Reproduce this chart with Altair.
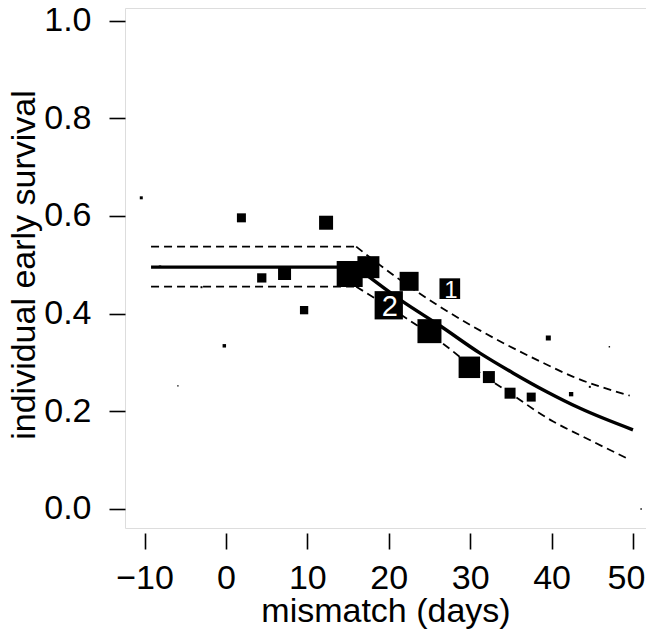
import altair as alt
import pandas as pd

# ---- observed points ----
mismatch = [-10.4, -8.1, -5.9, -3.0, -0.2, 1.9, 4.4, 7.2, 9.6, 12.3, 15.2, 17.5,
            20.0, 22.5, 25.0, 27.5, 29.9, 32.3, 34.9, 37.5, 39.6, 42.4, 44.7, 47.1, 51.0]
survival = [0.637, 0.496, 0.252, 0.454, 0.334, 0.596, 0.473, 0.482, 0.407, 0.586, 0.481, 0.495,
            0.417, 0.466, 0.364, 0.451, 0.290, 0.270, 0.237, 0.229, 0.350, 0.235, 0.250, 0.332, 0.0]
weight = [9, 6, 2, 4, 12, 81, 86, 169, 69, 196, 676, 484,
          800, 361, 576, 428, 462, 144, 121, 81, 25, 19, 4, 2, 2]
point_label = [""] * 12 + ["2", "", "", "1"] + [""] * 9
label_size = [0] * 12 + [29, 0, 0, 24] + [0] * 9

# ---- fitted curve and confidence band (flat part, then decline) ----
fit_x = [-9.2, 16.0, 16.0, 21.6, 26.3, 31.2, 35.3, 39.4, 43.5, 50.0]
fit_y = [0.495, 0.495, 0.495, 0.426, 0.375, 0.319, 0.278, 0.240, 0.206, 0.162]
upper_x = [-9.2, 16.0, 16.0, 20.8, 26.3, 30.4, 34.5, 38.6, 42.6, 49.6]
upper_y = [0.537, 0.537, 0.537, 0.476, 0.414, 0.373, 0.336, 0.302, 0.271, 0.232]
lower_x = [-9.2, 16.0, 16.0, 22.2, 26.3, 31.6, 34.9, 40.2, 43.5, 49.6]
lower_y = [0.455, 0.455, 0.455, 0.390, 0.343, 0.274, 0.237, 0.179, 0.151, 0.101]
segment = [0, 0, 1, 1, 1, 1, 1, 1, 1, 1]

x_ticks = [-10, 0, 10, 20, 30, 40, 50]
y_ticks = [0.0, 0.2, 0.4, 0.6, 0.8, 1.0]

FONT = "Liberation Sans"

pts = pd.DataFrame({"x": mismatch, "y": survival, "w": weight,
                    "lab": point_label, "fs": label_size})
fit = pd.DataFrame({"x": fit_x, "y": fit_y, "seg": segment})
band = pd.concat([
    pd.DataFrame({"x": upper_x, "y": upper_y, "seg": [f"u{s}" for s in segment]}),
    pd.DataFrame({"x": lower_x, "y": lower_y, "seg": [f"l{s}" for s in segment]}),
])

xscale = alt.Scale(domain=[-12.4, 51.6], nice=False, zero=False)
yscale = alt.Scale(domain=[-0.039, 1.0256], nice=False, zero=False)

xaxis = alt.Axis(values=x_ticks, title="mismatch (days)", grid=False, domain=False,
                 tickSize=16, tickWidth=1.6, tickColor="black", offset=5,
                 labelFont=FONT, labelFontSize=34, labelColor="black", labelPadding=12,
                 labelFlush=False, labelOverlap=False,
                 labelOffset={"condition": {"test": "datum.value === 50", "value": -7}, "value": 0},
                 titleFont=FONT, titleFontSize=34, titleFontWeight="normal", titleColor="black",
                 titleBaseline="alphabetic", titleY=88)
yaxis = alt.Axis(values=y_ticks, format=".1f", title="individual early survival", grid=False,
                 domain=False, tickSize=16, tickWidth=1.6, tickColor="black",
                 labelFont=FONT, labelFontSize=34, labelColor="black", labelPadding=18,
                 labelFlush=False, labelOverlap=False,
                 titleFont=FONT, titleFontSize=34, titleFontWeight="normal", titleColor="black",
                 titleAngle=270, titleAlign="center", titleBaseline="alphabetic",
                 titleX=-91, titleY=256.5)

X = alt.X("x:Q", scale=xscale, axis=xaxis)
Y = alt.Y("y:Q", scale=yscale, axis=yaxis)

squares = alt.Chart(pts).mark_square(filled=True, color="black", opacity=1).encode(
    x=X, y=Y, size=alt.Size("w:Q", scale=None, legend=None)
)

labels = alt.Chart(pts).transform_filter("datum.lab != ''").mark_text(
    color="white", font=FONT, align="center", baseline="middle", dy=2, dx=1
).encode(
    x=alt.X("x:Q", scale=xscale), y=alt.Y("y:Q", scale=yscale), text="lab:N",
    size=alt.Size("fs:Q", scale=None, legend=None)
)

fit_line = alt.Chart(fit).mark_line(color="black", strokeWidth=3.4, interpolate="monotone").encode(
    x=alt.X("x:Q", scale=xscale), y=alt.Y("y:Q", scale=yscale), detail="seg:N"
)

band_lines = alt.Chart(band).mark_line(color="black", strokeWidth=1.8, strokeDash=[8, 5],
                                       interpolate="monotone").encode(
    x=alt.X("x:Q", scale=xscale), y=alt.Y("y:Q", scale=yscale), detail="seg:N"
)

chart = alt.layer(band_lines, fit_line, squares, labels).properties(
    width=521, height=520,
    autosize=alt.AutoSizeParams(type="none"),
    padding={"left": 117, "top": 0, "right": 0, "bottom": 101},
).configure_view(stroke="black", strokeWidth=1.8).configure(background="white")

chart.save("out.html", embed_options={"renderer": "svg", "actions": False})
